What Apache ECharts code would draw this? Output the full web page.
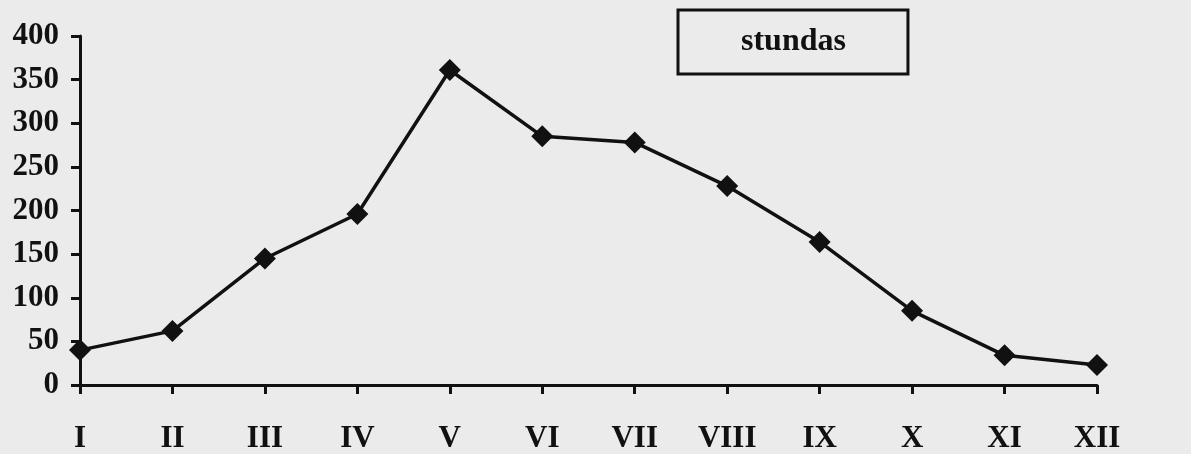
<!DOCTYPE html>
<html>
<head>
<meta charset="utf-8">
<script src="https://cdn.jsdelivr.net/npm/echarts@6/dist/echarts.min.js"></script>
<style>
html,body{margin:0;padding:0;background:#ebebeb;}
#chart{width:1191px;height:454px;}
</style>
</head>
<body>
<div id="chart"></div>
<script>
const months = ['I','II','III','IV','V','VI','VII','VIII','IX','X','XI','XII'];
const stundas = [40, 62, 145, 196, 361, 285, 278, 228, 164, 85, 34, 23];
const seriesName = 'stundas';

const chart = echarts.init(document.getElementById('chart'));
const serif = '"Liberation Serif","DejaVu Serif",serif';
chart.setOption({
  backgroundColor: '#ebebeb',
  animation: false,
  legend: {
    data: [{name: seriesName, icon: 'none'}],
    left: 678,
    top: 10,
    itemWidth: 0,
    itemHeight: 0,
    padding: [16, 62, 16, 58],
    borderColor: '#111',
    borderWidth: 3,
    textStyle: {fontFamily: serif, fontWeight: 'bold', fontSize: 32, color: '#111'}
  },
  grid: {left: 80, right: 94, top: 36, bottom: 67, containLabel: false},
  xAxis: {
    type: 'category',
    data: months,
    boundaryGap: false,
    axisLine: {lineStyle: {color: '#111', width: 3}},
    axisTick: {show: true, length: 9, alignWithLabel: true, lineStyle: {width: 3, color: '#111'}},
    axisLabel: {fontFamily: serif, fontWeight: 'bold', fontSize: 31, color: '#111', margin: 38},
    splitLine: {show: false}
  },
  yAxis: {
    type: 'value',
    min: 0, max: 400, interval: 50,
    axisLine: {show: true, lineStyle: {color: '#111', width: 3}},
    axisTick: {show: true, length: 9, lineStyle: {width: 3, color: '#111'}},
    axisLabel: {fontFamily: serif, fontWeight: 'bold', fontSize: 31, color: '#111', margin: 21},
    splitLine: {show: false}
  },
  series: [{
    name: seriesName,
    type: 'line',
    data: stundas,
    symbol: 'diamond',
    symbolSize: 22,
    lineStyle: {color: '#111', width: 3.5},
    itemStyle: {color: '#111'},
    z: 5
  }]
});
</script>
</body>
</html>
